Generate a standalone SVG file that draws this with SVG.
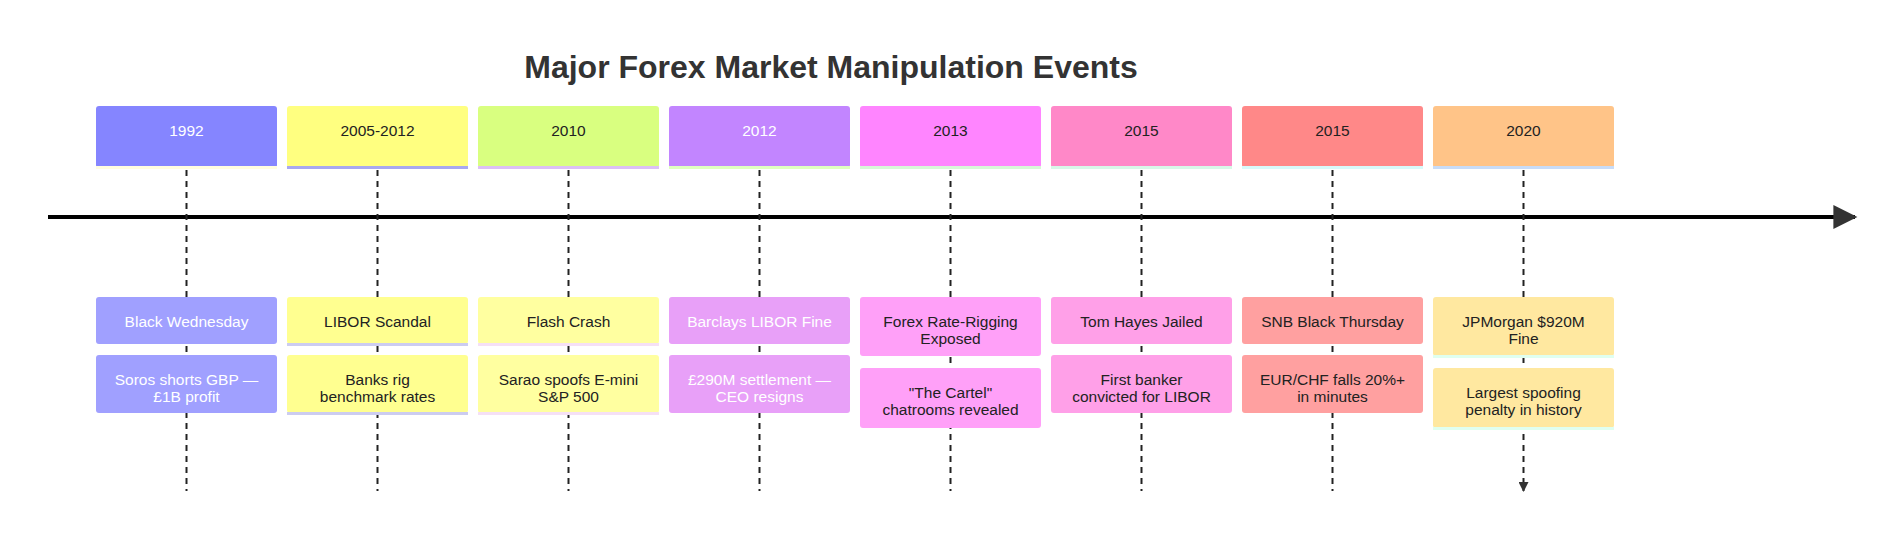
<svg xmlns="http://www.w3.org/2000/svg" width="1904" height="539" viewBox="0 0 1904 539">
<style>
text{font-family:"Liberation Sans",Arial,sans-serif;font-size:15.5px;text-anchor:middle;dominant-baseline:central;fill:#222}
.w{fill:#fff}
.t{font-size:32px;font-weight:bold;fill:#333}
.d{stroke:#222;stroke-width:2;stroke-dasharray:6,5;fill:none}
</style>
<defs>
<marker id="a" viewBox="0 0 10 10" refX="9" refY="5" markerWidth="5" markerHeight="5" orient="auto"><path d="M0,0L10,5L0,10z" fill="#333"/></marker>
<marker id="b" viewBox="0 0 10 10" refX="9" refY="5" markerWidth="10" markerHeight="6" orient="auto"><path d="M0,0L10,5L0,10z" fill="#333"/></marker>
</defs>
<rect width="1904" height="539" fill="#fff"/>
<text class="t" x="831" y="67">Major Forex Market Manipulation Events</text>
<g id="connectors">
<line x1="48" y1="217" x2="1855" y2="217" stroke="#000" stroke-width="4" marker-end="url(#b)"/>
<path class="d" marker-end="url(#a)" d="M186.5,170V491M377.5,170V491M568.5,170V491M759.5,170V491M950.5,170V491M1141.5,170V491M1332.5,170V491M1523.5,170V491"/>
</g>
<g id="n1992"><rect x="96" y="106" width="181" height="62" rx="3" fill="#8585ff"/><rect x="96" y="166" width="181" height="3" fill="#fffde0"/><text class="w" x="186.5" y="130">1992</text>
<rect x="96" y="297" width="181" height="47" rx="3" fill="#a0a0ff"/><text class="w" x="186.5" y="321">Black Wednesday</text>
<rect x="96" y="355" width="181" height="58" rx="3" fill="#a0a0ff"/><text class="w" x="186.5" y="379">Soros shorts GBP —</text><text class="w" x="186.5" y="396">£1B profit</text></g>
<g id="n2005"><rect x="287" y="106" width="181" height="62" rx="3" fill="#ffff80"/><rect x="287" y="166" width="181" height="3" fill="#a8a8f0"/><text x="377.5" y="130">2005-2012</text>
<rect x="287" y="297" width="181" height="47" rx="3" fill="#ffff90"/><rect x="287" y="343" width="181" height="3" fill="#ccccf0"/><text x="377.5" y="321">LIBOR Scandal</text>
<rect x="287" y="355" width="181" height="58" rx="3" fill="#ffff90"/><rect x="287" y="412" width="181" height="3" fill="#ccccf0"/><text x="377.5" y="379">Banks rig</text><text x="377.5" y="396">benchmark rates</text></g>
<g id="n2010"><rect x="478" y="106" width="181" height="62" rx="3" fill="#d9ff80"/><rect x="478" y="166" width="181" height="3" fill="#dcc0f5"/><text x="568.5" y="130">2010</text>
<rect x="478" y="297" width="181" height="47" rx="3" fill="#ffffa0"/><rect x="478" y="343" width="181" height="3" fill="#f5e0f5"/><text x="568.5" y="321">Flash Crash</text>
<rect x="478" y="355" width="181" height="58" rx="3" fill="#ffffa0"/><rect x="478" y="412" width="181" height="3" fill="#f5e0f5"/><text x="568.5" y="379">Sarao spoofs E-mini</text><text x="568.5" y="396">S&amp;P 500</text></g>
<g id="n2012"><rect x="669" y="106" width="181" height="62" rx="3" fill="#c285ff"/><rect x="669" y="166" width="181" height="3" fill="#dfffc0"/><text class="w" x="759.5" y="130">2012</text>
<rect x="669" y="297" width="181" height="47" rx="3" fill="#e8a0f8"/><text class="w" x="759.5" y="321">Barclays LIBOR Fine</text>
<rect x="669" y="355" width="181" height="58" rx="3" fill="#e8a0f8"/><text class="w" x="759.5" y="379">£290M settlement —</text><text class="w" x="759.5" y="396">CEO resigns</text></g>
<g id="n2013"><rect x="860" y="106" width="181" height="62" rx="3" fill="#ff85ff"/><rect x="860" y="166" width="181" height="3" fill="#d8f8d8"/><text x="950.5" y="130">2013</text>
<rect x="860" y="297" width="181" height="59" rx="3" fill="#ffa0f8"/><text x="950.5" y="321">Forex Rate-Rigging</text><text x="950.5" y="338">Exposed</text>
<rect x="860" y="368" width="181" height="60" rx="3" fill="#ffa0f8"/><text x="950.5" y="392">"The Cartel"</text><text x="950.5" y="409">chatrooms revealed</text></g>
<g id="n2015a"><rect x="1051" y="106" width="181" height="62" rx="3" fill="#ff88c8"/><rect x="1051" y="166" width="181" height="3" fill="#d8f8e8"/><text x="1141.5" y="130">2015</text>
<rect x="1051" y="297" width="181" height="47" rx="3" fill="#ffa0e8"/><text x="1141.5" y="321">Tom Hayes Jailed</text>
<rect x="1051" y="355" width="181" height="58" rx="3" fill="#ffa0e8"/><text x="1141.5" y="379">First banker</text><text x="1141.5" y="396">convicted for LIBOR</text></g>
<g id="n2015b"><rect x="1242" y="106" width="181" height="62" rx="3" fill="#ff8888"/><rect x="1242" y="166" width="181" height="3" fill="#d8fafa"/><text x="1332.5" y="130">2015</text>
<rect x="1242" y="297" width="181" height="47" rx="3" fill="#ffa0a0"/><text x="1332.5" y="321">SNB Black Thursday</text>
<rect x="1242" y="355" width="181" height="58" rx="3" fill="#ffa0a0"/><text x="1332.5" y="379">EUR/CHF falls 20%+</text><text x="1332.5" y="396">in minutes</text></g>
<g id="n2020"><rect x="1433" y="106" width="181" height="62" rx="3" fill="#ffc488"/><rect x="1433" y="166" width="181" height="3" fill="#c8dcf8"/><text x="1523.5" y="130">2020</text>
<rect x="1433" y="297" width="181" height="59" rx="3" fill="#ffe8a0"/><rect x="1433" y="355" width="181" height="3" fill="#e0fff0"/><text x="1523.5" y="321">JPMorgan $920M</text><text x="1523.5" y="338">Fine</text>
<rect x="1433" y="368" width="181" height="60" rx="3" fill="#ffe8a0"/><rect x="1433" y="427" width="181" height="3" fill="#e0fff0"/><text x="1523.5" y="392">Largest spoofing</text><text x="1523.5" y="409">penalty in history</text></g>
</svg>
